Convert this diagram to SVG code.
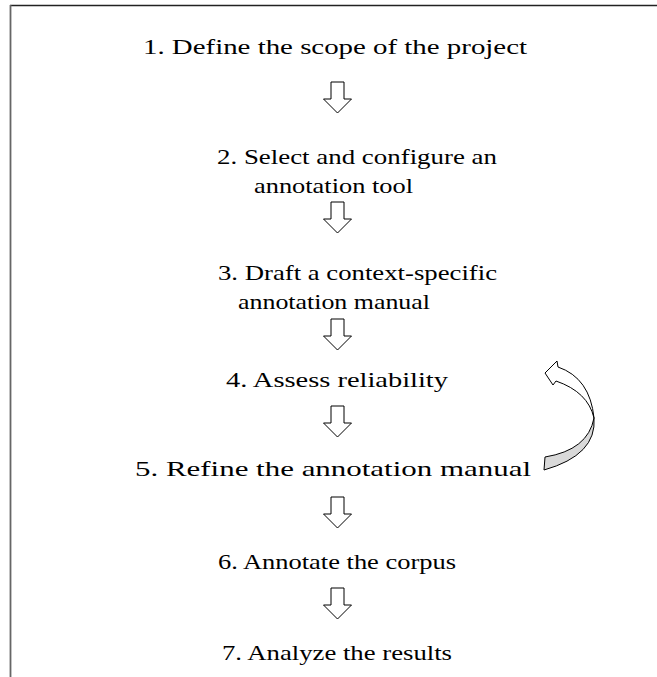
<svg xmlns="http://www.w3.org/2000/svg" width="657" height="677" viewBox="0 0 657 677">
<defs>
<style>
.t{font-family:"Liberation Serif","Times New Roman",serif;font-size:21px;fill:#000;text-anchor:middle}
.arr{fill:#fff;stroke:#000;stroke-width:1}
</style>
<path id="down" d="M -6.5 0 L 6.5 0 L 6.5 17 L 14 17 L 0 31 L -14 17 L -6.5 17 Z"/>
</defs>
<rect width="657" height="677" fill="#fff"/>
<g id="frame">
<line x1="10" y1="5.5" x2="657" y2="5.5" stroke="#222" stroke-width="1.5"/>
<line x1="10.5" y1="5" x2="10.5" y2="677" stroke="#666" stroke-width="1.8"/>
</g>
<g id="step1"><text class="t" x="335" y="54" textLength="384" lengthAdjust="spacingAndGlyphs">1. Define the scope of the project</text></g>
<g id="step2"><text class="t" x="357" y="164" textLength="280" lengthAdjust="spacingAndGlyphs">2. Select and configure an</text><text class="t" x="333.5" y="193" textLength="159" lengthAdjust="spacingAndGlyphs">annotation tool</text></g>
<g id="step3"><text class="t" x="357.5" y="280" textLength="279" lengthAdjust="spacingAndGlyphs">3. Draft a context-specific</text><text class="t" x="334" y="309" textLength="192" lengthAdjust="spacingAndGlyphs">annotation manual</text></g>
<g id="step4"><text class="t" x="337" y="387" textLength="222" lengthAdjust="spacingAndGlyphs">4. Assess reliability</text></g>
<g id="step5"><text class="t" x="333" y="476" textLength="396" lengthAdjust="spacingAndGlyphs">5. Refine the annotation manual</text></g>
<g id="step6"><text class="t" x="337" y="569" textLength="238" lengthAdjust="spacingAndGlyphs">6. Annotate the corpus</text></g>
<g id="step7"><text class="t" x="337" y="660" textLength="230" lengthAdjust="spacingAndGlyphs">7. Analyze the results</text></g>
<g id="connectors">
<use href="#down" class="arr" x="337.5" y="82"/>
<use href="#down" class="arr" x="337.5" y="202"/>
<use href="#down" class="arr" x="337.5" y="319"/>
<use href="#down" class="arr" x="337.5" y="406"/>
<use href="#down" class="arr" x="337.5" y="497"/>
<use href="#down" class="arr" x="337.5" y="588"/>
<g id="loop">
<path d="M 594 418 Q 597 455 544 470 L 545 457 Q 588 450 594 418 Z" fill="#d9d9d9" stroke="#000" stroke-width="1"/>
<path d="M 594 418 Q 590 378 558 367 L 557 361 L 545 373 L 553 385 L 556 381 Q 588 392 594 418 Z" fill="#fff" stroke="#000" stroke-width="1" stroke-linejoin="miter"/>
</g>
</g>
</svg>
